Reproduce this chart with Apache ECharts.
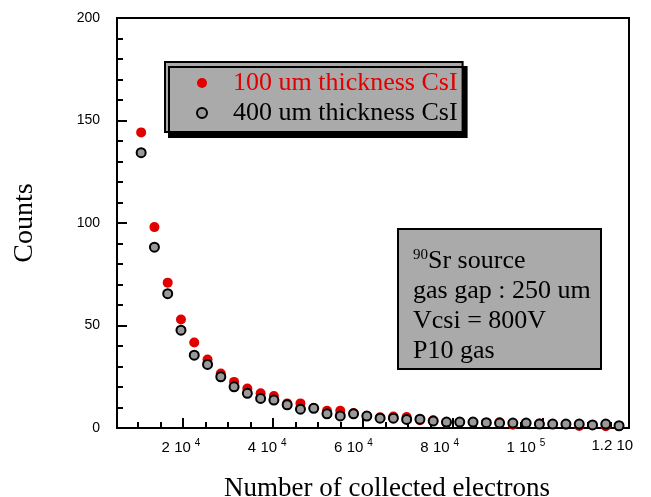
<!DOCTYPE html>
<html>
<head>
<meta charset="utf-8">
<script src="https://cdn.jsdelivr.net/npm/echarts@6/dist/echarts.min.js"></script>
<style>
html,body{margin:0;padding:0;background:#fff;}
#chart{width:651px;height:497px;}
</style>
</head>
<body>
<div id="chart"></div>
<script>
// ---- data ----
const electrons = [10700, 13650, 16600, 19550, 22500, 25450, 28400, 31350, 34300, 37250,
  40200, 43150, 46100, 49050, 52000, 54950, 57900, 60850, 63800, 66750,
  69700, 72650, 75600, 78550, 81500, 84450, 87400, 90350, 93300, 96250,
  99200, 102150, 105100, 108050, 111000, 113950, 116900];
const counts100 = [144.2, 98, 70.9, 52.9, 41.7, 33.4, 26.6, 22.5, 19.3, 16.9,
  15.6, 12, 12, 9.7, 8.4, 8.4, 7.3, 5.8, 5.2, 5.6,
  5.4, 3.8, 3.8, 2.5, 2.9, 2.8, 2.5, 2.8, 1.6, 2.3,
  2.2, 1.9, 1.7, 1.0, 1.5, 0.9, 1.0];
const counts400 = [134.3, 88.2, 65.5, 47.7, 35.5, 31, 25, 20.1, 16.9, 14.4,
  13.6, 11.3, 9.2, 9.6, 6.9, 5.9, 6.9, 5.8, 4.8, 4.8,
  4.2, 4.3, 3.4, 2.9, 2.9, 2.9, 2.6, 2.4, 2.4, 2.4,
  1.9, 1.9, 1.9, 1.9, 1.5, 1.9, 1.1];
const seriesNames = ['100 um thickness CsI', '400 um thickness CsI'];
const xMajorTicks = [20000, 40000, 60000, 80000, 100000];
const xMinorTicks = [10000, 15000, 25000, 30000, 35000, 45000, 50000, 55000, 65000, 70000,
  75000, 85000, 90000, 95000, 105000, 110000, 115000];
const xLabelValues = [20000, 40000, 60000, 80000, 100000, 120000];
const xLabelTexts = ['{n|2 10}{s|4}', '{n|4 10}{s|4}', '{n|6 10}{s|4}', '{n|8 10}{s|4}', '{n|1 10}{s|5}', '{n|1.2 10}'];
const noteLines = ['{sup|90}{t|Sr source}', '{t|gas gap : 250 um}', '{t|Vcsi = 800V}', '{t|P10 gas}'];

// ---- chart ----
const SERIF = '"Liberation Serif", "Times New Roman", serif';
const SANS = '"Liberation Sans", Arial, sans-serif';
const gridPos = {left: 117, top: 18, right: 22, bottom: 69, containLabel: false, outerBoundsMode: 'none'};
const chart = echarts.init(document.getElementById('chart'), null, {renderer: 'canvas'});

const option = {
  animation: false,
  backgroundColor: '#fff',
  grid: [
    Object.assign({show: true, borderColor: '#000', borderWidth: 2, backgroundColor: 'transparent'}, gridPos),
    Object.assign({}, gridPos),
    Object.assign({}, gridPos)
  ],
  legend: {
    orient: 'vertical',
    left: 165, top: 62,
    padding: [8, 5, 6, 31],
    itemGap: 4,
    itemWidth: 10, itemHeight: 10,
    icon: 'circle',
    backgroundColor: '#aaaaaa',
    borderColor: '#000', borderWidth: 2,
    shadowColor: '#000', shadowBlur: 0, shadowOffsetX: 4, shadowOffsetY: 5,
    textStyle: {fontFamily: SERIF, fontSize: 26, padding: [0, 0, 0, 21]},
    data: [
      {name: seriesNames[0], textStyle: {color: '#e00000'}},
      {name: seriesNames[1], textStyle: {color: '#000'}}
    ]
  },
  xAxis: [
    {
      type: 'value', gridIndex: 0, min: 5333, max: 119111,
      splitLine: {show: false},
      axisLine: {show: true, lineStyle: {color: '#000', width: 2}},
      axisTick: {show: true, inside: true, length: 10, customValues: xMajorTicks, lineStyle: {color: '#000', width: 2}},
      axisLabel: {show: false},
      name: 'Number of collected electrons', nameLocation: 'middle', nameGap: 47,
      nameTextStyle: {fontFamily: SERIF, fontSize: 27, color: '#000', padding: [0, 0, 0, 28]}
    },
    {
      type: 'value', gridIndex: 1, min: 5333, max: 119111,
      splitLine: {show: false},
      axisLine: {show: false},
      axisTick: {show: true, inside: true, length: 6, customValues: xMinorTicks, lineStyle: {color: '#000', width: 2}},
      axisLabel: {show: false}
    },
    {
      type: 'value', gridIndex: 2, min: 5159, max: 123884,
      splitLine: {show: false},
      axisLine: {show: false},
      axisTick: {show: false},
      axisLabel: {
        show: true, margin: 10, customValues: xLabelValues,
        fontFamily: SANS, fontSize: 15, color: '#000',
        formatter: function (v) {
          const i = xLabelValues.indexOf(v);
          return i >= 0 ? xLabelTexts[i] : '';
        },
        rich: {
          n: {fontFamily: SANS, fontSize: 15, color: '#000'},
          s: {fontFamily: SANS, fontSize: 10, color: '#000', padding: [0, 0, 10, 4]}
        }
      }
    }
  ],
  yAxis: [
    {
      type: 'value', gridIndex: 0, min: 0, max: 200, interval: 50,
      splitLine: {show: false},
      axisLine: {show: true, lineStyle: {color: '#000', width: 2}},
      axisTick: {show: true, inside: true, length: 10, lineStyle: {color: '#000', width: 2}},
      minorTick: {show: true, splitNumber: 5, length: 6, lineStyle: {color: '#000', width: 2}},
      axisLabel: {fontFamily: SANS, fontSize: 14, color: '#000', margin: 17},
      name: 'Counts', nameLocation: 'middle', nameGap: 78,
      nameTextStyle: {fontFamily: SERIF, fontSize: 28, color: '#000'}
    },
    {type: 'value', gridIndex: 1, min: 0, max: 200, show: false},
    {type: 'value', gridIndex: 2, min: 0, max: 200, show: false}
  ],
  series: [
    {
      name: seriesNames[0], type: 'scatter', xAxisIndex: 0, yAxisIndex: 0,
      symbol: 'circle', symbolSize: 10, z: 2,
      itemStyle: {color: '#e00000', opacity: 1},
      data: electrons.map((x, i) => [x, counts100[i]])
    },
    {
      name: seriesNames[1], type: 'scatter', xAxisIndex: 0, yAxisIndex: 0,
      symbol: 'circle', symbolSize: 9, z: 3,
      itemStyle: {color: '#999999', borderColor: '#000', borderWidth: 2, opacity: 1},
      data: electrons.map((x, i) => [x, counts400[i]])
    }
  ],
  graphic: [
    {
      type: 'group', left: 397, top: 228, z: 10,
      children: [
        {type: 'rect', shape: {x: 0, y: 0, width: 203, height: 140},
          style: {fill: '#aaaaaa', stroke: '#000', lineWidth: 2}},
        {type: 'text', x: 15, y: 17,
          style: {
            text: noteLines.join('\n'),
            fill: '#000',
            rich: {
              t: {fontFamily: SERIF, fontSize: 26, lineHeight: 30, fill: '#000'},
              sup: {fontFamily: SERIF, fontSize: 15, lineHeight: 30, fill: '#000', padding: [0, 0, 12, 0]}
            }
          }}
      ]
    }
  ]
};
chart.setOption(option);
</script>
</body>
</html>
